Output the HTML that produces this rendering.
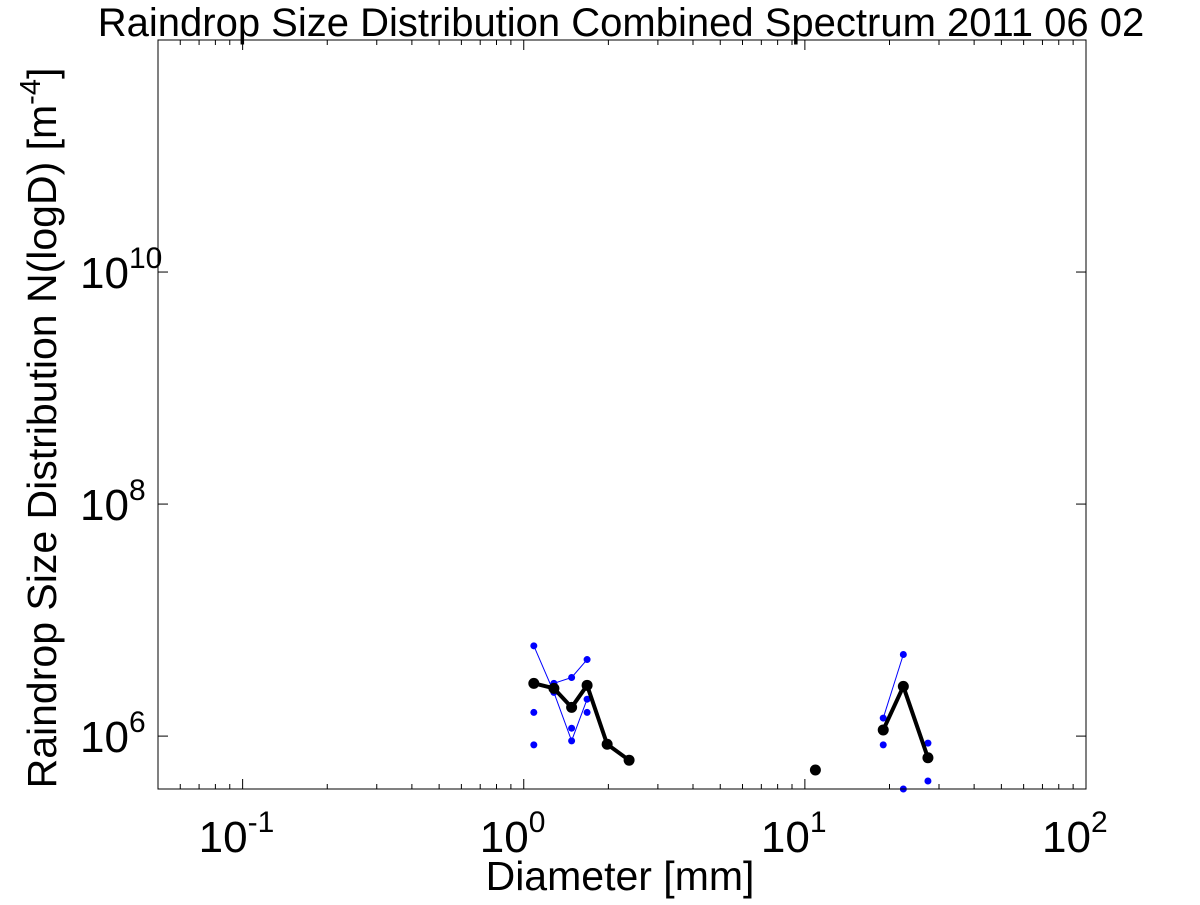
<!DOCTYPE html>
<html><head><meta charset="utf-8"><style>
body{margin:0;background:#fff;}
svg text{font-family:"Liberation Sans",sans-serif;}
</style></head><body>
<svg id="chart" width="1200" height="900" xmlns="http://www.w3.org/2000/svg">
<rect width="1200" height="900" fill="#fff"/>
<text x="621" y="36" font-size="40" text-anchor="middle">Raindrop Size Distribution Combined Spectrum 2011 06 02</text>
<text x="620" y="890" font-size="41" text-anchor="middle">Diameter [mm]</text>
<text transform="translate(56,428) rotate(-90)" font-size="41" text-anchor="middle">Raindrop Size Distribution N(logD) [m<tspan dy="-16" font-size="29">-4</tspan><tspan dy="16">]</tspan></text>
<g id="ticks"></g>
<g id="marks"></g>
<rect x="158" y="40" width="928" height="749" fill="none" stroke="#000" stroke-width="1"/>
</svg>
<script>
const diameters = [1.086, 1.28, 1.48, 1.68, 1.98, 2.37, 10.9, 19.0, 22.4, 27.4];
const combined = [2.85e6, 2.58e6, 1.77e6, 2.74e6, 8.5e5, 6.2e5, 5.1e5, 1.13e6, 2.68e6, 6.5e5];
const blueLineA = [6.0e6, 2.38e6, 9.1e5, 2.08e6, null, null, null, 1.43e6, 5.05e6, null];
const blueLineB = [null, 2.85e6, 3.2e6, 4.57e6, null, null, null, null, null, null];
const blueDotsX = [1.086, 1.086, 1.48, 1.68, 19.0, 27.4, 22.4, 27.4];
const blueDotsY = [1.6e6, 8.4e5, 1.17e6, 1.6e6, 8.4e5, 8.7e5, 3.5e5, 4.1e5];
const xTickExps = [-1, 0, 1, 2];
const yTickExps = [6, 8, 10];

const X0=158,X1=1086,Y0=789,Y1=40;
const xmin=Math.log10(0.05),xmax=2,ymin=Math.log10(3.5e5),ymax=12;
const sx=v=>X0+(Math.log10(v)-xmin)/(xmax-xmin)*(X1-X0);
const sy=v=>Y0-(Math.log10(v)-ymin)/(ymax-ymin)*(Y0-Y1);
const NS="http://www.w3.org/2000/svg";
function mk(tag,attrs,parent){const e=document.createElementNS(NS,tag);for(const k in attrs)e.setAttribute(k,attrs[k]);parent.appendChild(e);return e;}
const T=document.getElementById('ticks'),M=document.getElementById('marks');
function label(x,y,e,anchor,name){const t=mk('text',{x:x,y:y,'font-size':44,'text-anchor':anchor},T);


const a=mk('tspan',{},t);a.textContent='10';
const b=mk('tspan',{dy:-20,'font-size':30},t);b.textContent=String(e);}
for(let d=-2;d<2;d++){for(let m=1;m<10;m++){const v=m*Math.pow(10,d);if(v<0.05||v>100)continue;const x=sx(v);const L=m===1?10:5;
const t1=mk('line',{x1:x,x2:x,y1:Y0,y2:Y0-L,stroke:'#000'},T);


const t2=mk('line',{x1:x,x2:x,y1:Y1,y2:Y1+L,stroke:'#000'},T);

}}
xTickExps.forEach(e=>{const x=sx(Math.pow(10,e));label(x-44,852,e,'start','x-tick-label');});
yTickExps.forEach(e=>{const y=sy(Math.pow(10,e));
const a=mk('line',{x1:X0,x2:X0+10,y1:y,y2:y,stroke:'#000'},T);


const b=mk('line',{x1:X1,x2:X1-10,y1:y,y2:y,stroke:'#000'},T);


label(80,y+16,e,'start','y-tick-label');});
function drawLine(vals,color,w,name){let segs=[],cur=[];vals.forEach((v,i)=>{if(v==null){if(cur.length)segs.push(cur);cur=[];}else cur.push([sx(diameters[i]),sy(v)]);});if(cur.length)segs.push(cur);
segs.forEach(s=>{if(s.length<2)return;const p=mk('polyline',{points:s.map(q=>q.join(',')).join(' '),fill:'none',stroke:color,'stroke-width':w,'stroke-linejoin':'round'},M);

});}
function dot(x,y,r,color,name){const c=mk('circle',{cx:x,cy:y,r:r,fill:color},M);

}
drawLine(blueLineA,'#0000ff',1,'blue-series-line-a');
drawLine(blueLineB,'#0000ff',1,'blue-series-line-b');
blueLineA.forEach((v,i)=>{if(v!=null)dot(sx(diameters[i]),sy(v),3.5,'#0000ff','blue-point');});
blueLineB.forEach((v,i)=>{if(v!=null)dot(sx(diameters[i]),sy(v),3.5,'#0000ff','blue-point');});
blueDotsX.forEach((d,i)=>dot(sx(d),sy(blueDotsY[i]),3.5,'#0000ff','blue-point'));
const combVals=combined.map((v,i)=>i===6?null:v);
drawLine(combVals,'#000',4,'combined-spectrum-line');
combined.forEach((v,i)=>dot(sx(diameters[i]),sy(v),5.5,'#000','combined-point'));
</script>
</body></html>
